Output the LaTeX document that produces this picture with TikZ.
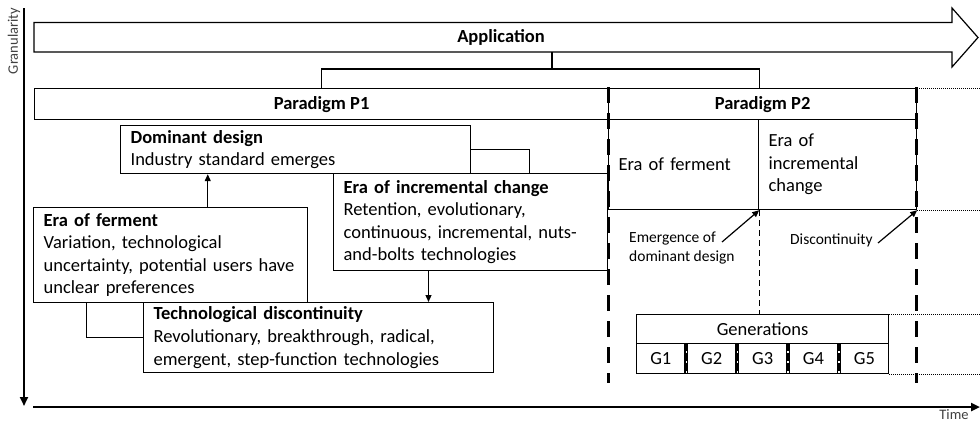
\documentclass[tikz,border=0pt]{standalone}
\usepackage{fontspec}
\setmainfont{Carlito}
\usetikzlibrary{arrows.meta,calc}
\definecolor{labgray}{RGB}{64,64,64}
\begin{document}
\begin{tikzpicture}[x=1pt,y=-1pt,
  box/.style={draw,line width=1.2pt,fill=white,anchor=north west,inner xsep=10pt,inner ysep=0pt,align=left,font=\fontsize{18.5}{22.6}\selectfont},
  ctr/.style={draw,line width=1.2pt,fill=white,anchor=north west,inner sep=0pt,align=center,font=\fontsize{18.5}{22.6}\selectfont},
  conn/.style={line width=1.2pt},
  arr/.style={line width=1.2pt,-{Triangle[length=7pt,width=6pt]}},
  axis/.style={line width=2.4pt,-{Triangle[length=9pt,width=8pt]}},
  thickdash/.style={line width=3pt,dash pattern=on 16pt off 10pt},
  thindash/.style={line width=1.2pt,dash pattern=on 6pt off 4pt},
  dotline/.style={line width=0.9pt,dash pattern=on 0.9pt off 1.1pt},
  gsep/.style={line width=2.6pt,dash pattern=on 8pt off 2pt},
  smalltext/.style={inner sep=0pt,align=left,font=\fontsize{15.5}{19.2}\selectfont},
  axlabel/.style={inner sep=0pt,text=labgray,font=\fontsize{14.5}{17}\selectfont},
]
\useasboundingbox (0,0) rectangle (980,423);

% axes
\coordinate (g0) at (24,8);
\coordinate (g1) at (24,406);
\coordinate (t0) at (33,407);
\coordinate (t1) at (980,407);
\draw[axis] (g0) -- (g1);
\draw[axis] (t0) -- (t1);
\node[axlabel,rotate=90] (glab) at (14,41) {Granularity};
\node[axlabel] (tlab) at (954,415) {Time};

% application arrow
\draw[line width=1.2pt,line join=miter] (34,22.5) -- (952,22.5) -- (952,8) -- (978,37.5) -- (952,67) -- (952,52) -- (34,52) -- cycle;
\node[inner sep=0pt,font=\fontsize{18.5}{22.6}\selectfont] (app) at (501,37.5) {\textbf{Application}};

% paradigms
\node[ctr,minimum width=574pt,minimum height=31pt] (p1) at (34,88) {\textbf{Paradigm P1}};
\node[ctr,minimum width=308pt,minimum height=31pt] (p2) at (608,88) {\textbf{Paradigm P2}};
\node[box,text width=130pt,minimum height=90pt] (ferm2) at (608,119) {Era of ferment};
\node[box,text width=138pt,minimum height=90pt] (inc2) at (758,119) {Era of\\incremental\\change};

% connector from application
\coordinate (appb) at (552,52);
\coordinate (j) at (552,69);
\draw[conn] (appb) -- (j);
\draw[conn] (p1.north) |- (j) -| (ferm2.east |- p2.north);

% left boxes
\node[box,text width=330pt,minimum height=48pt] (dom) at (120,125) {\textbf{Dominant design}\\Industry standard emerges};
\node[box,text width=254pt,minimum height=97pt] (inc) at (333,173) {\textbf{Era of incremental change}\\Retention, evolutionary,\\\mbox{continuous, incremental, nuts-}\\and-bolts technologies};
\node[box,text width=254pt,minimum height=95pt] (fer) at (33,207) {\textbf{Era of ferment}\\Variation, technological\\\mbox{uncertainty, potential users have}\\unclear preferences};
\node[box,text width=330pt,minimum height=70pt] (tech) at (143,302) {\textbf{Technological discontinuity}\\Revolutionary, breakthrough, radical,\\emergent, step-function technologies};

% left connectors
\coordinate (a1) at ($(fer.north west)!0.635!(fer.north east)$);
\draw[arr] (a1) -- (a1 |- dom.south);
\coordinate (a2) at ($(inc.south west)!0.347!(inc.south east)$);
\draw[arr] (a2) -- (a2 |- tech.north);
\draw[conn] (dom.east) -| ($(inc.north west)!0.715!(inc.north east)$);
\draw[conn] ($(fer.south west)!0.193!(fer.south east)$) |- (tech.west);

% generations
\node[ctr,minimum width=252pt,minimum height=29pt] (gen) at (636,314) {Generations};
\foreach \i in {1,...,5}
  \node[ctr,minimum width=48.4pt,minimum height=30pt] (g\i) at ({636+(\i-1)*50.9},343) {G\i};
\foreach \i [evaluate=\i as \k using int(\i+1)] in {1,...,4}
  \draw[gsep] ($(g\i.north east)!0.5!(g\k.north west)$) -- ($(g\i.south east)!0.5!(g\k.south west)$);

% vertical separators
\coordinate (d1a) at (608,87);
\coordinate (d1b) at (608,383);
\coordinate (d2a) at (916,87);
\coordinate (d2b) at (916,383);
\draw[thickdash] (d1a) -- (d1b);
\draw[thickdash] (d2a) -- (d2b);
\draw[thindash] (ferm2.south east) -- (ferm2.south east |- gen.north);

% dotted extensions
\draw[dotline] (p2.north east) -- (p2.north east -| t1);
\draw[dotline] (inc2.south east) -- (inc2.south east -| t1);
\draw[dotline] (gen.north east) -- (gen.north east -| t1);
\draw[dotline] (g5.south east) -- (g5.south east -| t1);

% annotations
\node[smalltext,anchor=west] (em) at (629,248) {Emergence of\\dominant design};
\coordinate (emA) at (722,242);
\draw[arr] (emA) -- (ferm2.south east);
\node[smalltext,anchor=west] (disc) at (790,240) {Discontinuity};
\coordinate (discA) at (878,243);
\draw[arr] (discA) -- (inc2.south east);
\end{tikzpicture}
\end{document}
